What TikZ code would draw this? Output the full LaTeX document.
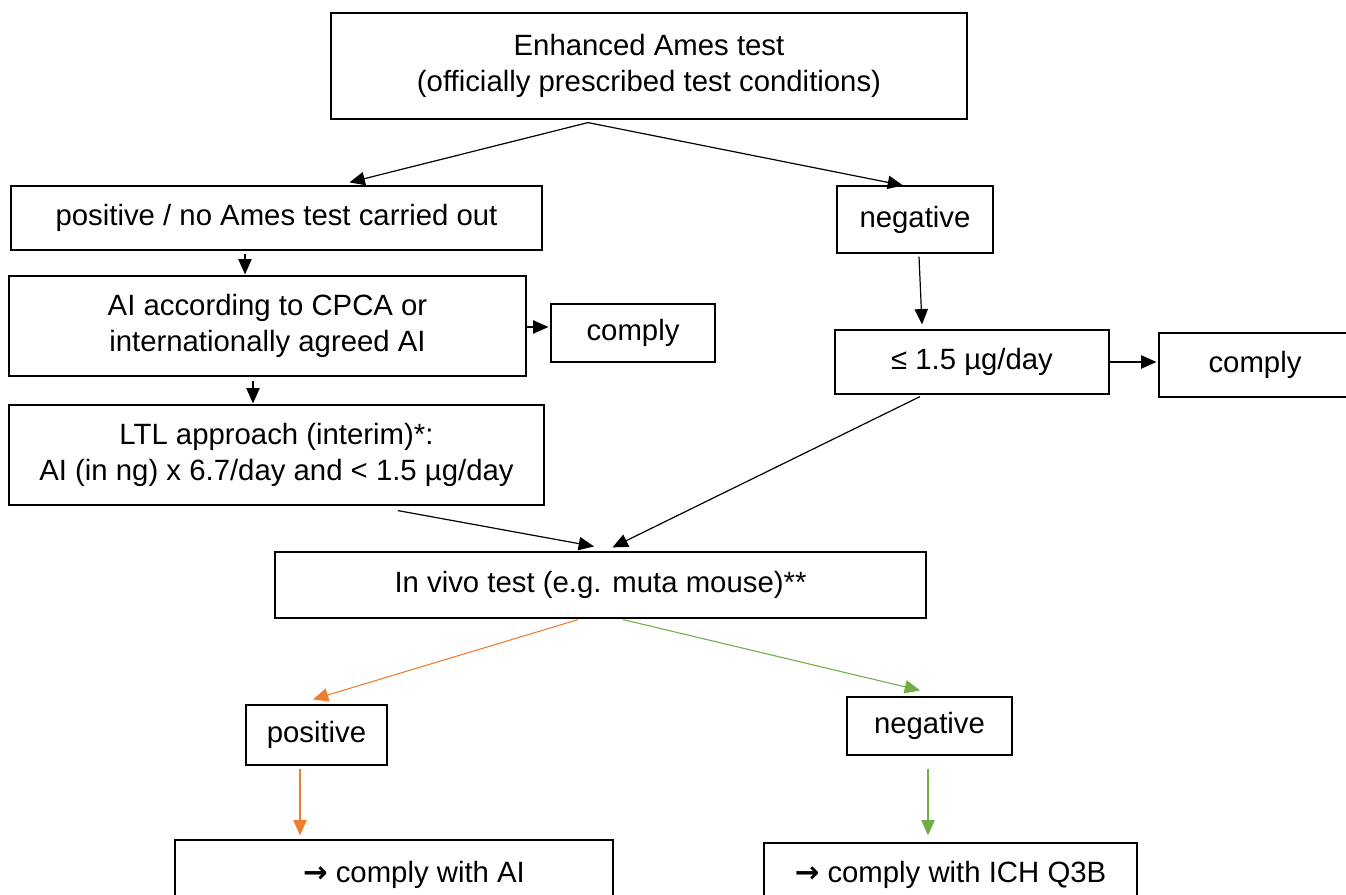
\documentclass[tikz,border=0pt]{standalone}
\usepackage{fontspec}
\setmainfont{Liberation Sans}
\newfontfamily\arrowfont{DejaVu Sans}
\usetikzlibrary{arrows.meta,calc}
\definecolor{vivoorange}{HTML}{ED7D31}
\definecolor{vivogreen}{HTML}{70AD47}

\begin{document}
\begin{tikzpicture}[
    x=0.75pt, y=-0.75pt,
    box/.style={draw, line width=0.9pt, inner sep=0pt, align=center,
                font=\fontsize{22}{26.5}\selectfont},
    size/.style 2 args={minimum width=#1*0.75pt, minimum height=#2*0.75pt},
    flow/.style={-{Triangle[length=11.5pt, width=10pt]}, line width=0.9pt},
    hot/.style={flow, vivoorange, line width=0.8pt},
    cool/.style={flow, vivogreen, line width=0.8pt},
]
    \useasboundingbox (0,0) rectangle (1346,895);
    \clip (0,0) rectangle (1346,895);

    \node[box, size={636}{106}] (ames) at (649,66)
        {Enhanced Ames test\\(officially prescribed test conditions)};
    \node[box, size={531}{64}] (pos) at (276.5,218) {positive / no Ames test carried out};
    \node[box, size={156}{67}] (neg) at (915,219.5) {negative};
    \node[box, size={517}{100}] (cpca) at (267.5,326)
        {AI according to CPCA or\\internationally agreed AI};
    \node[box, size={164}{58}] (okA) at (633,333) {comply};
    \node[box, size={274}{64}] (low) at (972,362) {≤ 1.5 µg/day};
    \node[box, size={192}{64}] (okB) at (1255,365) {comply};
    \node[box, size={535}{100}] (ltl) at (276.5,455)
        {LTL approach (interim)*:\\AI (in ng) x 6.7/day and < 1.5 µg/day};
    \node[box, size={651}{66}] (vivo) at (600.5,585) {In vivo test (e.g. muta mouse)**};
    \node[box, size={141}{60}] (vpos) at (316.5,735) {positive};
    \node[box, size={165}{58}] (vneg) at (929.5,726) {negative};
    \node[box, size={438}{70}] (useAI) at (394,875)
        {\hspace*{30pt}{\arrowfont\bfseries →} comply with AI};
    \node[box, size={373}{64}] (useICH) at (950.5,875)
        {{\arrowfont\bfseries →} comply with ICH Q3B};

    \draw[flow] ($(ames.south)+(-61,3)$) -- ($(pos.north)+(73,-3)$);
    \draw[flow] ($(ames.south)+(-61,3)$) -- ($(neg.north)+(-12,0)$);
    \draw[flow] ($(pos.south)+(-31.5,3)$) -- ($(cpca.north)+(-22.5,-1)$);
    \draw[flow] ($(cpca.east)+(0,1)$) -- ($(cpca.east -| okA.west)+(-2,1)$);
    \draw[flow] ($(cpca.south)+(-14.5,4)$) -- ($(ltl.north)+(-23.5,-1)$);
    \draw[flow] ($(neg.south)+(4,3)$) -- ($(low.north)+(-50,-5)$);
    \draw[flow] (low.east) -- ($(low.east -| okB.west)+(-2,0)$);
    \draw[flow] ($(ltl.south)+(121.5,5)$) -- ($(vivo.north)+(-6.5,-5)$);
    \draw[flow] ($(low.south)+(-52,2)$) -- ($(vivo.north)+(12,-4)$);

    \draw[hot] ($(vivo.south)+(-22.5,1)$) -- ($(vpos.north)+(-3.5,-5)$);
    \draw[cool] ($(vivo.south)+(22.5,1)$) -- ($(vneg.north)+(-9.5,-6)$);
    \draw[hot] ($(vpos.south)+(-16.5,3)$) -- ($(useAI.north)+(-94,-4)$);
    \draw[cool] ($(vneg.south)+(-1.5,13)$) -- ($(useICH.north)+(-22.5,-7)$);

\end{tikzpicture}
\end{document}
